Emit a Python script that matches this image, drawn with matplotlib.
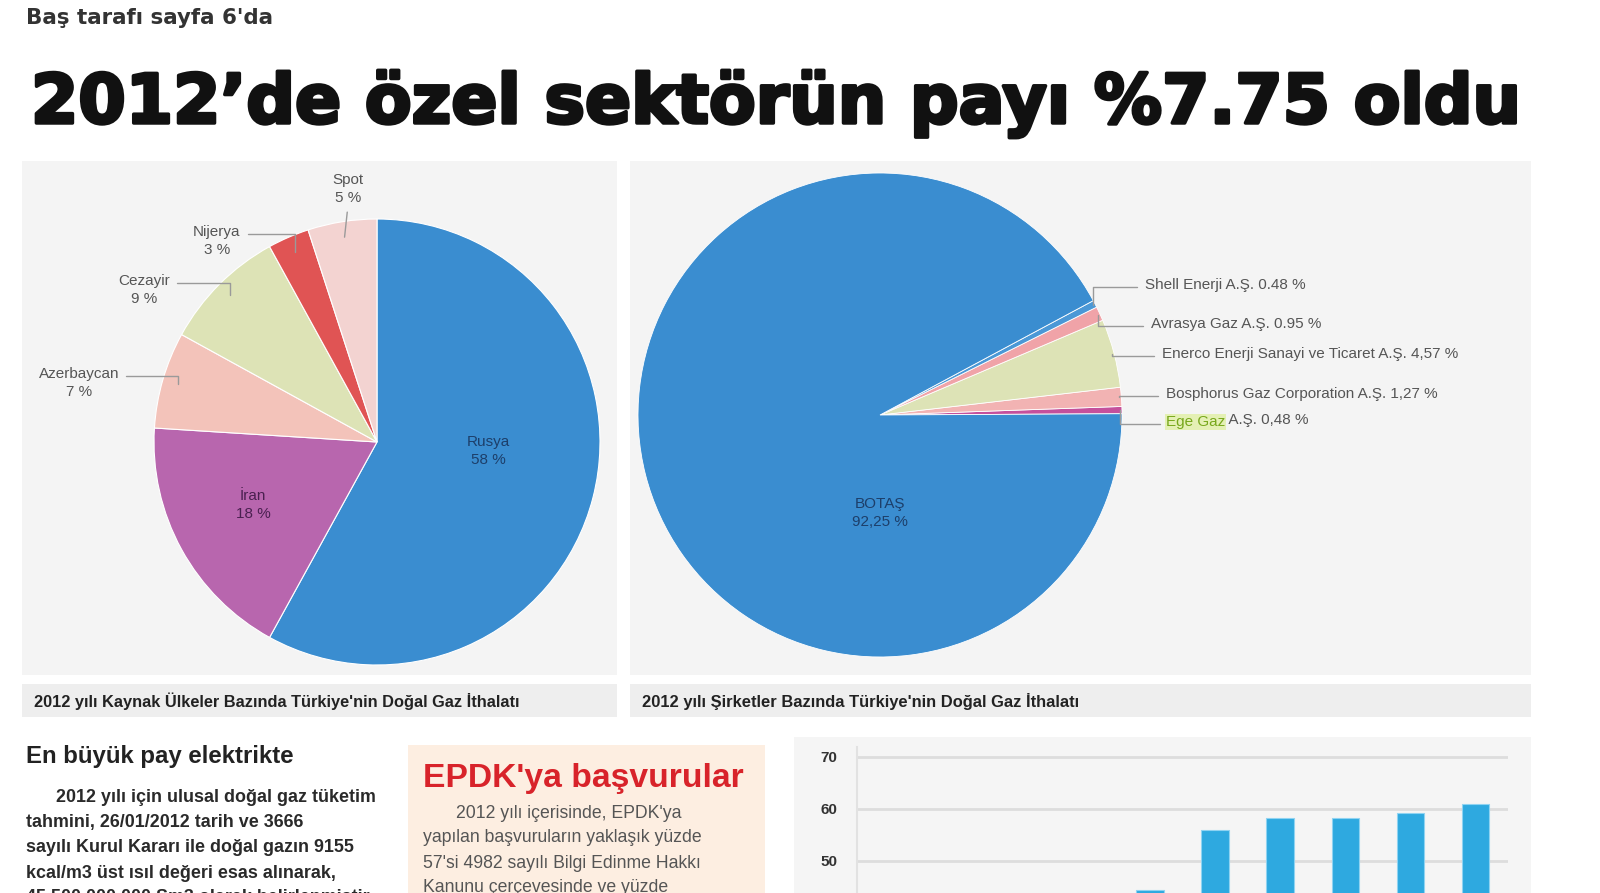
import numpy as np
import matplotlib
matplotlib.use('Agg')
import matplotlib.pyplot as plt
import matplotlib.patheffects as pe
from matplotlib.patches import Rectangle

W, H = 1600, 893

# --- data ---
kaynak_ulke = ['Rusya', 'İran', 'Azerbaycan', 'Cezayir', 'Nijerya', 'Spot']
kaynak_pay = [58, 18, 7, 9, 3, 5]
kaynak_renk = ['#3a8dd0', '#b866ae', '#f3c3ba', '#dde3b6', '#e05454', '#f3d3d1']

sirket_ad = ['Ege Gaz A.Ş.', 'Bosphorus Gaz Corporation A.Ş.',
             'Enerco Enerji Sanayi ve Ticaret A.Ş.', 'Avrasya Gaz A.Ş.',
             'Shell Enerji A.Ş.', 'BOTAŞ']
sirket_pay = [0.48, 1.27, 4.57, 0.95, 0.48, 92.25]
sirket_etiket = ['0,48 %', '1,27 %', '4,57 %', '0.95 %', '0.48 %', '92,25 %']
sirket_renk = ['#c4509c', '#f2b3b3', '#dde3b6', '#f0a3a8', '#4b98d6', '#3a8dd0']

bar_sira = list(range(10))
bar_deger = [30, 33, 36, 38, 44.4, 56, 58.3, 58.3, 59.2, 61]
bar_ticks = [50, 60, 70]

paragraf_sol = ['2012 yılı için ulusal doğal gaz tüketim',
                'tahmini, 26/01/2012 tarih ve 3666',
                'sayılı Kurul Kararı ile doğal gazın 9155',
                'kcal/m3 üst ısıl değeri esas alınarak,',
                '45.500.000.000 Sm3 olarak belirlenmiştir.']
paragraf_epdk = ['2012 yılı içerisinde, EPDK\'ya',
                 'yapılan başvuruların yaklaşık yüzde',
                 '57\'si 4982 sayılı Bilgi Edinme Hakkı',
                 'Kanunu çerçevesinde ve yüzde']

plt.rcParams['font.family'] = ['Liberation Sans', 'DejaVu Sans']

fig = plt.figure(figsize=(16, 8.93), dpi=100)
fig.patch.set_facecolor('white')

# page layer in pixel coordinates
bg = fig.add_axes([0, 0, 1, 1])
bg.set_xlim(0, W)
bg.set_ylim(H, 0)
bg.axis('off')


def box(x0, y0, x1, y1, color):
    bg.add_patch(Rectangle((x0, y0), x1 - x0, y1 - y0, color=color, lw=0))


def fit(t, width_px):
    # scale a text so it is as wide as in the page
    r = fig.canvas.get_renderer()
    bb = t.get_window_extent(r)
    t.set_fontsize(t.get_fontsize() * width_px / bb.width)
    return t.get_fontsize()


def ftext(x, y, s, **kw):
    return fig.text(x / W, 1 - y / H, s, zorder=5, **kw)


box(22, 161, 617, 675, '#f4f4f4')
box(630, 161, 1531, 675, '#f4f4f4')
box(22, 684, 617, 717, '#eeeeee')
box(630, 684, 1531, 717, '#eeeeee')
box(408, 745, 765, 893, '#fdeee1')
box(794, 737, 1531, 893, '#f5f5f5')

fig.canvas.draw()

sub = bg.text(26, 24, 'Baş tarafı sayfa 6\'da', fontsize=14, fontweight='bold',
              color='#333333', va='baseline', family=['DejaVu Sans'])
fit(sub, 248)

title = bg.text(31, 123, '2012’de özel sektörün payı %7.75 oldu', fontsize=56,
                fontweight='bold', color='#111111', va='baseline',
                family=['DejaVu Sans'])
fit(title, 1490)
title.set_path_effects([pe.withStroke(linewidth=2.5, foreground='#111111')])

c1 = bg.text(34, 701, '2012 yılı Kaynak Ülkeler Bazında Türkiye\'nin Doğal Gaz İthalatı',
             fontsize=9, fontweight='bold', color='#222222', va='center')
fit(c1, 489)
c2 = bg.text(642, 701, '2012 yılı Şirketler Bazında Türkiye\'nin Doğal Gaz İthalatı',
             fontsize=9, fontweight='bold', color='#222222', va='center')
fit(c2, 438)


# --- pies ---
def pie_axes(cx, cy, r):
    ax = fig.add_axes([(cx - r) / W, (H - cy - r) / H, 2 * r / W, 2 * r / H])
    ax.axis('off')
    return ax


ax1 = pie_axes(377, 442, 223)
w1, _ = ax1.pie(kaynak_pay, colors=kaynak_renk, startangle=90, counterclock=False,
                radius=1, wedgeprops=dict(edgecolor='white', linewidth=0.8))
ax1.set_xlim(-1, 1)
ax1.set_ylim(-1, 1)
ax1.set_aspect('auto')

lab_pos = {'Azerbaycan': (79, 383), 'Cezayir': (144, 290),
           'Nijerya': (217, 241), 'Spot': (348, 189)}
for w, ad, pay in zip(w1, kaynak_ulke, kaynak_pay):
    mid = np.deg2rad((w.theta1 + w.theta2) / 2)
    if ad in lab_pos:
        tx, ty = lab_pos[ad]
        if ad == 'Spot':
            rp, cs = (0.5, 0), 'arc3'
        else:
            rp, cs = (1, 0.72), 'angle,angleA=0,angleB=90,rad=0'
        ax1.annotate(f'{ad}\n{pay} %', xy=(0.93 * np.cos(mid), 0.93 * np.sin(mid)),
                     xytext=(tx, H - ty), textcoords='figure pixels',
                     ha='center', va='center', fontsize=11, color='#555555',
                     linespacing=1.4,
                     arrowprops=dict(arrowstyle='-', color='#9a9a9a', lw=1,
                                     relpos=rp, shrinkA=3, shrinkB=0,
                                     connectionstyle=cs))
ftext(488, 451, 'Rusya\n58 %', ha='center', va='center', fontsize=11,
      color='#1d3f6a', linespacing=1.4)
ftext(253, 505, 'İran\n18 %', ha='center', va='center', fontsize=11,
      color='#4a2050', linespacing=1.4)

ax2 = pie_axes(880, 415, 242)
w2, _ = ax2.pie(sirket_pay, colors=sirket_renk, startangle=0.3, counterclock=True,
                radius=1, wedgeprops=dict(edgecolor='white', linewidth=0.6))
ax2.set_xlim(-1, 1)
ax2.set_ylim(-1, 1)
ax2.set_aspect('auto')

sag_pos = [(1166, 422), (1166, 394), (1162, 354), (1151, 324), (1145, 285)]
for w, ad, et, (tx, ty) in zip(w2[:5], sirket_ad, sirket_etiket, sag_pos):
    mid = np.deg2rad((w.theta1 + w.theta2) / 2)
    if ad.startswith('Ege'):
        txt = 'Ege Gaz'
        col = '#78a81c'
    else:
        txt = f'{ad} {et}'
        col = '#555555'
    t = ax2.annotate(txt, xy=(0.99 * np.cos(mid), 0.99 * np.sin(mid)),
                     xytext=(tx, H - ty), textcoords='figure pixels',
                     ha='left', va='center', fontsize=11, color=col,
                     arrowprops=dict(arrowstyle='-', color='#9a9a9a', lw=1,
                                     relpos=(0, 0.35), shrinkA=4, shrinkB=0,
                                     connectionstyle='angle,angleA=0,angleB=90,rad=0'))
    if ad.startswith('Ege'):
        t.set_bbox(dict(facecolor='#e4f0b4', edgecolor='none', pad=0.5))
        ax2.annotate(' ' + ad[len('Ege Gaz '):] + ' ' + et, xy=(1, 0.5),
                     xycoords=t, ha='left', va='center', fontsize=11,
                     color='#555555')
ftext(880, 513, f'{sirket_ad[-1]}\n{sirket_etiket[-1]}', ha='center',
      va='center', fontsize=11, color='#1d3f6a', linespacing=1.4)

# --- bottom text columns ---
h1 = bg.text(26, 757, 'En büyük pay elektrikte', fontsize=15, fontweight='bold',
             color='#222222', va='center')
fit(h1, 270)
p0 = bg.text(56, 798, paragraf_sol[0], fontsize=11, fontweight='bold',
             color='#2a2a2a', va='center')
fs = fit(p0, 319)
for i, satir in enumerate(paragraf_sol[1:], start=1):
    bg.text(26, 798 + 25 * i, satir, fontsize=fs, fontweight='bold',
            color='#2a2a2a', va='center')

h2 = bg.text(423, 779, 'EPDK\'ya başvurular', fontsize=22, fontweight='bold',
             color='#d8232a', va='center')
fit(h2, 319)
e1 = bg.text(423, 838, paragraf_epdk[1], fontsize=10, color='#555555', va='center')
fs2 = fit(e1, 281)
for i, satir in enumerate(paragraf_epdk):
    if i == 1:
        continue
    bg.text(456 if i == 0 else 423, 814 + 24.5 * i, satir, fontsize=fs2,
            color='#555555', va='center')

# --- bar chart (cut by page bottom) ---
y0, y1 = 0, 72
px_per = 5.2
top_px = 757 - (y1 - 70) * px_per
bot_px = 757 + 70 * px_per
ax3 = fig.add_axes([857 / W, (H - bot_px) / H, (1508 - 857) / W, (bot_px - top_px) / H])
ax3.bar(bar_sira, bar_deger, width=0.42, color='#2ea9e0', edgecolor='#8fd3f2',
        linewidth=0.8, zorder=3)
ax3.set_xlim(-0.5, 9.5)
ax3.set_ylim(y0, y1)
ax3.set_yticks(bar_ticks)
ax3.set_yticklabels([str(v) for v in bar_ticks], fontsize=11, fontweight='bold',
                    color='#333333')
ax3.set_xticks([])
ax3.set_facecolor('none')
ax3.grid(axis='y', color='#dddddd', lw=2, zorder=0)
ax3.tick_params(axis='y', length=0, pad=14)
for s in ['top', 'right', 'bottom']:
    ax3.spines[s].set_visible(False)
ax3.spines['left'].set_color('#e2e2e2')
ax3.spines['left'].set_linewidth(1.5)

fig.savefig('out.png', dpi=100)
